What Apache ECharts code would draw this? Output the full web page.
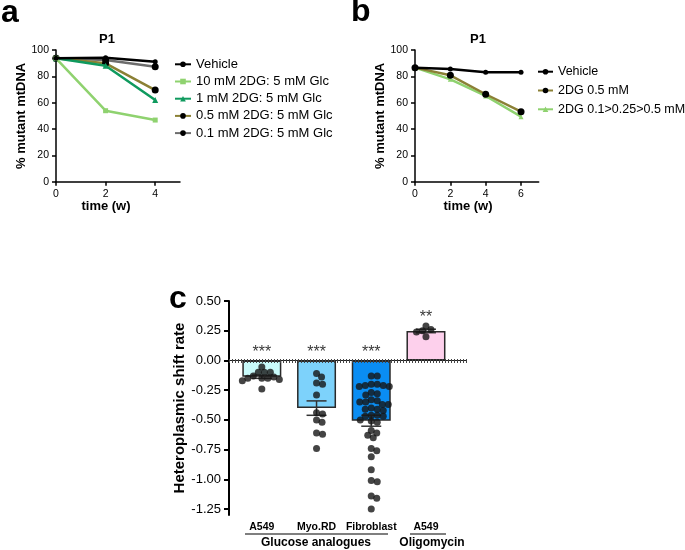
<!DOCTYPE html>
<html><head><meta charset="utf-8">
<script src="https://cdn.jsdelivr.net/npm/echarts@6/dist/echarts.min.js"></script>
<style>html,body{margin:0;padding:0;background:#fff}#c{width:685px;height:550px}</style>
</head><body><div id="c"></div>
<script>
// ---- Panel a data ----
const aTimes = [0, 2, 4];
const aVehicle = [93.7, 94.2, 91.1];
const a10mM = [93.7, 53.9, 46.8];
const a1mM = [93.7, 88.1, 62.0];
const a05mM = [93.7, 89.9, 69.6];
const a01mM = [93.7, 92.4, 87.3];
const aNames = ['Vehicle', '10 mM 2DG: 5 mM Glc', '1 mM 2DG: 5 mM Glc', '0.5 mM 2DG: 5 mM Glc', '0.1 mM 2DG: 5 mM Glc'];
const abYTicks = [0, 20, 40, 60, 80, 100];
const aXTicks = [0, 2, 4];
// ---- Panel b data ----
const bTimes = [0, 2, 4, 6];
const bVehicle = [86.6, 85.6, 83.1, 83.1];
const b05mM = [86.6, 80.8, 66.4, 53.2];
const bRamp = [86.6, 77.7, 65.1, 49.4];
const bNames = ['Vehicle ', '2DG 0.5 mM', '2DG 0.1>0.25>0.5 mM'];
const bXTicks = [0, 2, 4, 6];
// ---- Panel c data ----
const cCats = ['A549', 'Myo.RD', 'Fibroblast', 'A549'];
const cStars = ['***', '***', '***', '**'];
const cA549 = [-0.055, -0.10, -0.10, -0.10, -0.13, -0.14, -0.15, -0.15, -0.15, -0.16, -0.17, -0.24];
const cMyoRD = [-0.11, -0.14, -0.19, -0.20, -0.29, -0.44, -0.45, -0.50, -0.52, -0.61, -0.62, -0.74];
const cFibro = [-0.13, -0.13, -0.20, -0.20, -0.21, -0.21, -0.22, -0.22, -0.27, -0.28, -0.29,
  -0.33, -0.34, -0.35, -0.35, -0.37, -0.37, -0.40, -0.41, -0.41, -0.42, -0.46, -0.46, -0.47, -0.47,
  -0.50, -0.51, -0.52, -0.59, -0.61, -0.63, -0.65, -0.74, -0.76, -0.81, -0.92, -1.01, -1.02, -1.14, -1.16, -1.25];
const cOligo = [0.29, 0.26, 0.25, 0.24, 0.20];
const cYTicks = [-1.25, -1.00, -0.75, -0.50, -0.25, 0.00, 0.25, 0.50];

const FONT = 'Liberation Sans, Arial, sans-serif';
const groups = [cA549, cMyoRD, cFibro, cOligo];
const barColors = ['#c9fbfb', '#7dd2fb', '#0a8df3', '#fdd0ec'];

// layout constants for panel c
const C = {left: 229, top: 301, width: 238, height: 214, xmin: 0.4, xmax: 4.75, ymin: -1.3, ymax: 0.5};
const pxPerY = C.height / (C.ymax - C.ymin);
const pxPerX = C.width / (C.xmax - C.xmin);

function mean(a) { return a.reduce((s, v) => s + v, 0) / a.length; }
function sem(a) { const m = mean(a); const sd = Math.sqrt(a.reduce((s, v) => s + (v - m) * (v - m), 0) / (a.length - 1)); return sd / Math.sqrt(a.length); }

function swarm(xc, vals, D) {
  const placed = [];
  const out = [];
  const sorted = vals.slice().sort((p, q) => q - p);
  for (const v of sorted) {
    const py = v * pxPerY;
    let off = 0;
    for (let k = 0; k < 400; k++) {
      const cand = (k === 0) ? 0 : ((k % 2 ? 1 : -1) * Math.ceil(k / 2) * 0.5);
      let ok = true;
      for (const p of placed) {
        const dx = p.x - cand, dy = p.y - py;
        if (dx * dx + dy * dy < D * D) { ok = false; break; }
      }
      if (ok) { off = cand; break; }
    }
    placed.push({x: off, y: py});
    out.push([xc + off / pxPerX, v]);
  }
  return out;
}

const barData = groups.map((g, i) => ({value: [i + 1, mean(g)], itemStyle: {color: barColors[i]}}));
const errData = groups.map((g, i) => [i + 1, mean(g), mean(g) - sem(g), mean(g) + sem(g)]);
let dotData = [];
groups.forEach((g, i) => { dotData = dotData.concat(swarm(i + 1, g, 5.9)); });
const starData = groups.map((g, i) => [i + 1, Math.max(0, Math.max.apply(null, g), mean(g) + sem(g))]);

const abAxisCommon = {
  axisLine: {lineStyle: {color: '#000', width: 1.5}},
  axisTick: {length: 4, lineStyle: {color: '#000', width: 1.5}},
  splitLine: {show: false},
  axisLabel: {color: '#000', fontSize: 10.5, fontFamily: FONT, margin: 7}
};

function yAB(gi) {
  return Object.assign({}, abAxisCommon, {
    type: 'value', gridIndex: gi, min: 0, max: 100, interval: 20,
    name: '% mutant mtDNA', nameLocation: 'middle', nameGap: 26, nameRotate: 90,
    nameTextStyle: {fontSize: 13, fontWeight: 'bold', fontFamily: FONT, color: '#000'},
    axisLabel: Object.assign({}, abAxisCommon.axisLabel, {customValues: abYTicks}),
    axisTick: Object.assign({}, abAxisCommon.axisTick, {customValues: abYTicks})
  });
}
function xAB(gi, max, ticks) {
  return Object.assign({}, abAxisCommon, {
    type: 'value', gridIndex: gi, min: 0, max: max,
    axisLabel: Object.assign({}, abAxisCommon.axisLabel, {customValues: ticks, margin: 7}),
    axisTick: Object.assign({}, abAxisCommon.axisTick, {customValues: ticks})
  });
}
function zip(xs, ys) { return xs.map((x, i) => [x, ys[i]]); }
function lineSeries(name, gi, xs, ys, color, symbol, size, symColor, z) {
  return {
    type: 'line', name: name, xAxisIndex: gi, yAxisIndex: gi, data: zip(xs, ys),
    symbol: symbol, symbolSize: size, showSymbol: true, z: z,
    lineStyle: {color: color, width: 2.5},
    itemStyle: {color: symColor || color, borderWidth: 0},
    emphasis: {disabled: true}
  };
}

const legendText = {fontSize: 13, fontFamily: FONT, color: '#000', lineHeight: 14};
const titleStyle = {fontSize: 13, fontWeight: 'bold', fontFamily: FONT, color: '#000'};

const option = {
  animation: false,
  backgroundColor: '#fff',
  title: [
    {text: 'P1', left: 107, top: 33, padding: 0, textAlign: 'center', textStyle: titleStyle},
    {text: 'P1', left: 478, top: 33, padding: 0, textAlign: 'center', textStyle: titleStyle},
    {text: 'time (w)', left: 106, top: 200, padding: 0, textAlign: 'center', textStyle: titleStyle},
    {text: 'time (w)', left: 468, top: 200, padding: 0, textAlign: 'center', textStyle: titleStyle}
  ],
  legend: [
    {orient: 'vertical', left: 174, top: 57.3, padding: 0, itemWidth: 16, itemHeight: 7, itemGap: 3.2,
     data: aNames, textStyle: legendText, selectedMode: false},
    {orient: 'vertical', left: 537, top: 64.7, padding: 0, itemWidth: 15, itemHeight: 7, itemGap: 4.8,
     data: bNames, textStyle: Object.assign({}, legendText, {fontSize: 12.5}), selectedMode: false}
  ],
  grid: [
    {left: 56, top: 50, width: 124, height: 131.7},
    {left: 415, top: 50, width: 123.7, height: 131.7},
    {left: C.left, top: C.top, width: C.width, height: C.height}
  ],
  xAxis: [
    xAB(0, 5, aXTicks),
    xAB(1, 7, bXTicks),
    {type: 'value', gridIndex: 2, min: C.xmin, max: C.xmax, splitLine: {show: false},
     axisLine: {show: false}, axisTick: {show: false},
     axisLabel: {customValues: [1, 2, 3, 4], formatter: v => cCats[Math.round(v) - 1] || '',
       fontSize: 10.5, fontWeight: 'bold', fontFamily: FONT, color: '#000', margin: 7}}
  ],
  yAxis: [
    yAB(0),
    yAB(1),
    {type: 'value', gridIndex: 2, min: C.ymin, max: C.ymax,
     name: 'Heteroplasmic shift rate', nameLocation: 'middle', nameGap: 40, nameRotate: 90,
     nameTextStyle: {fontSize: 15, fontWeight: 'bold', fontFamily: FONT, color: '#000'},
     splitLine: {show: false},
     axisLine: {lineStyle: {color: '#000', width: 2}},
     axisTick: {length: 5, customValues: cYTicks, lineStyle: {color: '#000', width: 2}},
     axisLabel: {customValues: cYTicks, formatter: v => v.toFixed(2), fontSize: 13, fontFamily: FONT, color: '#000', margin: 8}}
  ],
  series: [
    lineSeries('0.1 mM 2DG: 5 mM Glc', 0, aTimes, a01mM, '#6d6d6d', 'circle', 7, '#000', 2),
    lineSeries('0.5 mM 2DG: 5 mM Glc', 0, aTimes, a05mM, '#8b8035', 'circle', 7, '#000', 3),
    lineSeries('1 mM 2DG: 5 mM Glc', 0, aTimes, a1mM, '#0f9a5e', 'triangle', 6, null, 4),
    lineSeries('10 mM 2DG: 5 mM Glc', 0, aTimes, a10mM, '#8fd26f', 'rect', 5, null, 5),
    lineSeries('Vehicle', 0, aTimes, aVehicle, '#000', 'circle', 5, null, 6),
    lineSeries('2DG 0.5 mM', 1, bTimes, b05mM, '#8b8035', 'circle', 7, '#000', 3),
    lineSeries('2DG 0.1>0.25>0.5 mM', 1, bTimes, bRamp, '#8fd26f', 'triangle', 5, null, 2),
    lineSeries('Vehicle ', 1, bTimes, bVehicle, '#000', 'circle', 5, null, 6),
    {type: 'bar', xAxisIndex: 2, yAxisIndex: 2, data: barData, barWidth: 39, z: 2,
     itemStyle: {borderColor: '#2a2a2a', borderWidth: 1.5},
     emphasis: {disabled: true},
     markLine: {silent: true, symbol: 'none', label: {show: false}, animation: false,
       data: [{yAxis: 0, lineStyle: {type: 'solid', width: 1, color: '#222'}},
              {yAxis: 0, lineStyle: {type: [1, 2], width: 4, color: '#444'}}]}},
    {type: 'custom', xAxisIndex: 2, yAxisIndex: 2, data: errData, z: 4,
     renderItem: function (params, api) {
       const x = api.value(0);
       const lo = api.coord([x, api.value(2)]);
       const hi = api.coord([x, api.value(3)]);
       const hw = 10;
       const st = {stroke: '#333', lineWidth: 1.5};
       return {type: 'group', children: [
         {type: 'line', shape: {x1: lo[0], y1: lo[1], x2: hi[0], y2: hi[1]}, style: st},
         {type: 'line', shape: {x1: lo[0] - hw, y1: lo[1], x2: lo[0] + hw, y2: lo[1]}, style: st},
         {type: 'line', shape: {x1: hi[0] - hw, y1: hi[1], x2: hi[0] + hw, y2: hi[1]}, style: st}
       ]};
     }},
    {type: 'scatter', xAxisIndex: 2, yAxisIndex: 2, data: dotData, symbol: 'circle', symbolSize: 7, z: 5,
     itemStyle: {color: '#151515'}, emphasis: {disabled: true}},
    {type: 'scatter', xAxisIndex: 2, yAxisIndex: 2, data: starData, symbolSize: 0, z: 6,
     label: {show: true, position: 'top', distance: 0, formatter: p => cStars[p.dataIndex],
       fontSize: 16, fontFamily: FONT, color: '#000'}}
  ],
  graphic: [
    {type: 'text', left: 1, top: -3, style: {text: 'a', fontSize: 32, fontWeight: 'bold', fontFamily: FONT, fill: '#000'}},
    {type: 'text', left: 351, top: -4, style: {text: 'b', fontSize: 32, fontWeight: 'bold', fontFamily: FONT, fill: '#000'}},
    {type: 'text', left: 169, top: 283, style: {text: 'c', fontSize: 32, fontWeight: 'bold', fontFamily: FONT, fill: '#000'}},
    {type: 'line', shape: {x1: 245, y1: 534, x2: 388, y2: 534}, style: {stroke: '#555', lineWidth: 1.5}},
    {type: 'line', shape: {x1: 410, y1: 534, x2: 446, y2: 534}, style: {stroke: '#555', lineWidth: 1.5}},
    {type: 'text', x: 316, y: 543, style: {text: 'Glucose analogues', align: 'center', verticalAlign: 'middle', fontSize: 12, fontWeight: 'bold', fontFamily: FONT, fill: '#000'}},
    {type: 'text', x: 432, y: 543, style: {text: 'Oligomycin', align: 'center', verticalAlign: 'middle', fontSize: 12, fontWeight: 'bold', fontFamily: FONT, fill: '#000'}}
  ]
};
const chart = echarts.init(document.getElementById('c'), null, {renderer: 'canvas'});
chart.setOption(option);
</script></body></html>
